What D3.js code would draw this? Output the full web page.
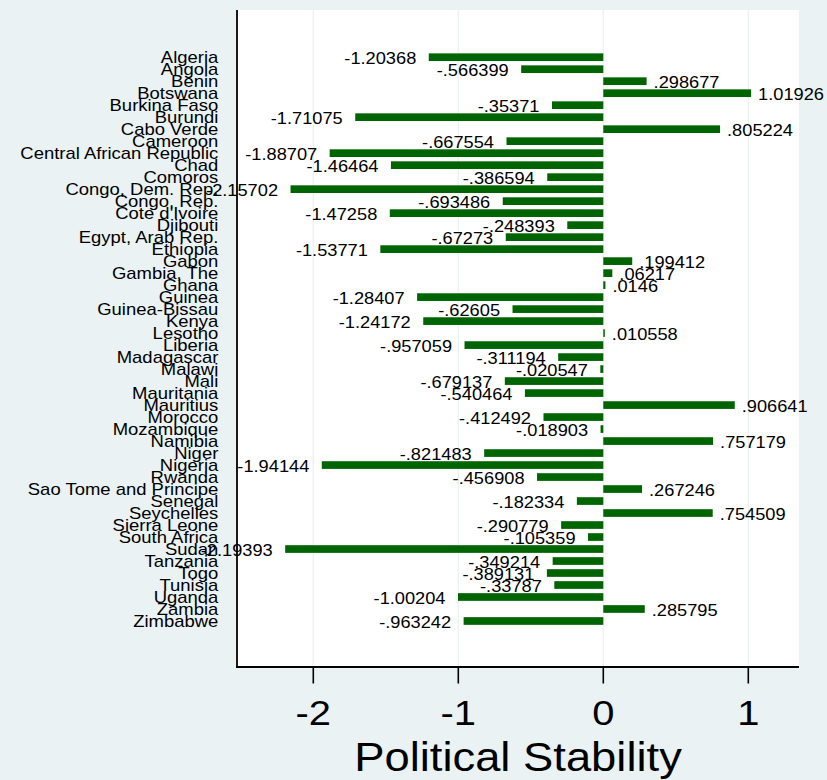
<!DOCTYPE html>
<html>
<head>
<meta charset="utf-8">
<script src="https://cdn.jsdelivr.net/npm/d3@7/dist/d3.min.js"></script>
<style>
  html, body { margin: 0; padding: 0; background: #eaf2f3; }
  svg { display: block; }
  text { font-family: "Liberation Sans", Arial, Helvetica, sans-serif; fill: #000; }
</style>
</head>
<body>
<svg id="chart" width="827" height="780"></svg>
<script>
const countries = [
  "Algeria","Angola","Benin","Botswana","Burkina Faso","Burundi","Cabo Verde","Cameroon",
  "Central African Republic","Chad","Comoros","Congo, Dem. Rep.","Congo, Rep.","Cote d'Ivoire",
  "Djibouti","Egypt, Arab Rep.","Ethiopia","Gabon","Gambia, The","Ghana","Guinea","Guinea-Bissau",
  "Kenya","Lesotho","Liberia","Madagascar","Malawi","Mali","Mauritania","Mauritius","Morocco",
  "Mozambique","Namibia","Niger","Nigeria","Rwanda","Sao Tome and Principe","Senegal","Seychelles",
  "Sierra Leone","South Africa","Sudan","Tanzania","Togo","Tunisia","Uganda","Zambia","Zimbabwe"
];
const stability = [
  -1.20368, -0.566399, 0.298677, 1.01926, -0.35371, -1.71075, 0.805224, -0.667554,
  -1.88707, -1.46464, -0.386594, -2.15702, -0.693486, -1.47258,
  -0.248393, -0.67273, -1.53771, 0.199412, 0.06217, 0.0146, -1.28407, -0.62605,
  -1.24172, 0.010558, -0.957059, -0.311194, -0.020547, -0.679137, -0.540464, 0.906641, -0.412492,
  -0.018903, 0.757179, -0.821483, -1.94144, -0.456908, 0.267246, -0.182334, 0.754509,
  -0.290779, -0.105359, -2.19393, -0.349214, -0.389131, -0.33787, -1.00204, 0.285795, -0.963242
];
const xTicks = [-2, -1, 0, 1];
const xTitle = "Political Stability";

const svg = d3.select("#chart");
const W = 827, H = 780;
const plot = { left: 237, right: 799, top: 10, bottom: 667 };
const SX = 1.14; // horizontal stretch of the original typeface

svg.append("rect").attr("width", W).attr("height", H).attr("fill", "#eaf2f3");
svg.append("rect")
  .attr("x", plot.left).attr("y", plot.top)
  .attr("width", plot.right - plot.left).attr("height", plot.bottom - plot.top)
  .attr("fill", "#ffffff");

const x = d3.scaleLinear().domain([-2, 1]).range([313.3, 748.3]);
const y = d3.scalePoint().domain(countries).range([57.2, 621]);
const step = y.step();
const barH = step * 0.64;

// gridlines
svg.append("g").selectAll("line").data(xTicks).join("line")
  .attr("x1", d => x(d)).attr("x2", d => x(d))
  .attr("y1", plot.top).attr("y2", plot.bottom)
  .attr("stroke", "#eaf2f3").attr("stroke-width", 1.4);

const data = countries.map((c, i) => ({ c, v: stability[i] }));

// bars
svg.append("g").selectAll("rect").data(data).join("rect")
  .attr("x", d => Math.min(x(0), x(d.v)))
  .attr("width", d => Math.abs(x(d.v) - x(0)))
  .attr("y", d => y(d.c) - barH / 2)
  .attr("height", barH)
  .attr("fill", "#006400");

function stext(g, px, py, str, size, anchor, sx) {
  return g.append("text")
    .attr("transform", `translate(${px},${py}) scale(${sx || SX},1)`)
    .attr("text-anchor", anchor)
    .attr("font-size", size)
    .text(str);
}

const fmt = v => d3.format(".6~g")(v).replace(/\u2212/g, "-").replace(/^(-?)0\./, "$1.");

// value labels
const vl = svg.append("g");
data.forEach(d => {
  if (d.v < 0) stext(vl, x(d.v) - 12.5, y(d.c) + 6.8, fmt(d.v), 16, "end");
  else stext(vl, x(d.v) + 7, y(d.c) + 7, fmt(d.v), 16, "start");
});

// category labels
const cl = svg.append("g");
countries.forEach(c => stext(cl, 218.3, y(c) + 6, c, 16.2, "end"));

// axes lines
svg.append("line").attr("x1", plot.left).attr("x2", plot.left)
  .attr("y1", plot.top).attr("y2", plot.bottom + 0.8)
  .attr("stroke", "#000").attr("stroke-width", 1.8);
svg.append("line").attr("x1", plot.left - 0.9).attr("x2", plot.right)
  .attr("y1", plot.bottom).attr("y2", plot.bottom)
  .attr("stroke", "#000").attr("stroke-width", 1.8);

// ticks
svg.append("g").selectAll("line").data(xTicks).join("line")
  .attr("x1", d => x(d)).attr("x2", d => x(d))
  .attr("y1", plot.bottom).attr("y2", 683.5)
  .attr("stroke", "#000").attr("stroke-width", 1.6);

const tl = svg.append("g");
xTicks.forEach(t => stext(tl, x(t), 725, String(t), 35, "middle"));

stext(svg.append("g"), (plot.left + plot.right) / 2, 770.7, xTitle, 40.5, "middle", 1.12);
</script>
</body>
</html>
